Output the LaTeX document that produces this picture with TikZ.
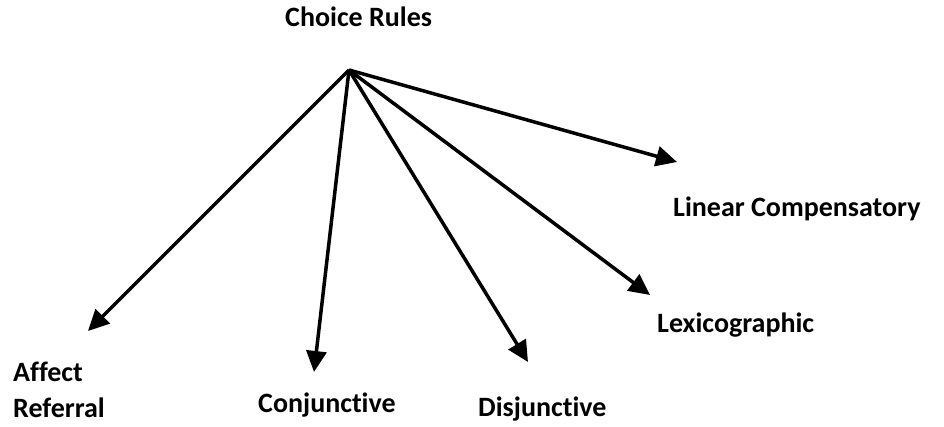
\documentclass[tikz,border=0pt]{standalone}
\usepackage{fontspec}
\setmainfont{Carlito}[Ligatures={NoCommon}]
\usetikzlibrary{arrows.meta}
\begin{document}
\begin{tikzpicture}[x=1pt,y=1pt,
  lbl/.style={font=\bfseries\fontsize{28}{36}\selectfont, inner sep=0pt, anchor=base west, align=left},
  arr/.style={line width=3.5pt, -{Triangle[length=21pt,width=20pt]}}]
\useasboundingbox (0,0) rectangle (944,427);
\node[lbl] (choice) at (285,400) {Choice Rules};
\coordinate (o) at (349,357);
\coordinate (taff) at (88,96);
\coordinate (tcon) at (314,55);
\coordinate (tdis) at (528,65);
\coordinate (tlex) at (650,132);
\coordinate (tlin) at (677,265);
\node[lbl] (lin) at (673,210) {Linear Compensatory};
\node[lbl] (lex) at (657,94) {Lexicographic};
\node[lbl] (aff) at (13,9) {Affect\\Referral};
\node[lbl] (con) at (258,14) {Conjunctive};
\node[lbl] (dis) at (478,10) {Disjunctive};
\draw[arr] (o) -- (taff);
\draw[arr] (o) -- (tcon);
\draw[arr] (o) -- (tdis);
\draw[arr] (o) -- (tlex);
\draw[arr] (o) -- (tlin);
\end{tikzpicture}
\end{document}
